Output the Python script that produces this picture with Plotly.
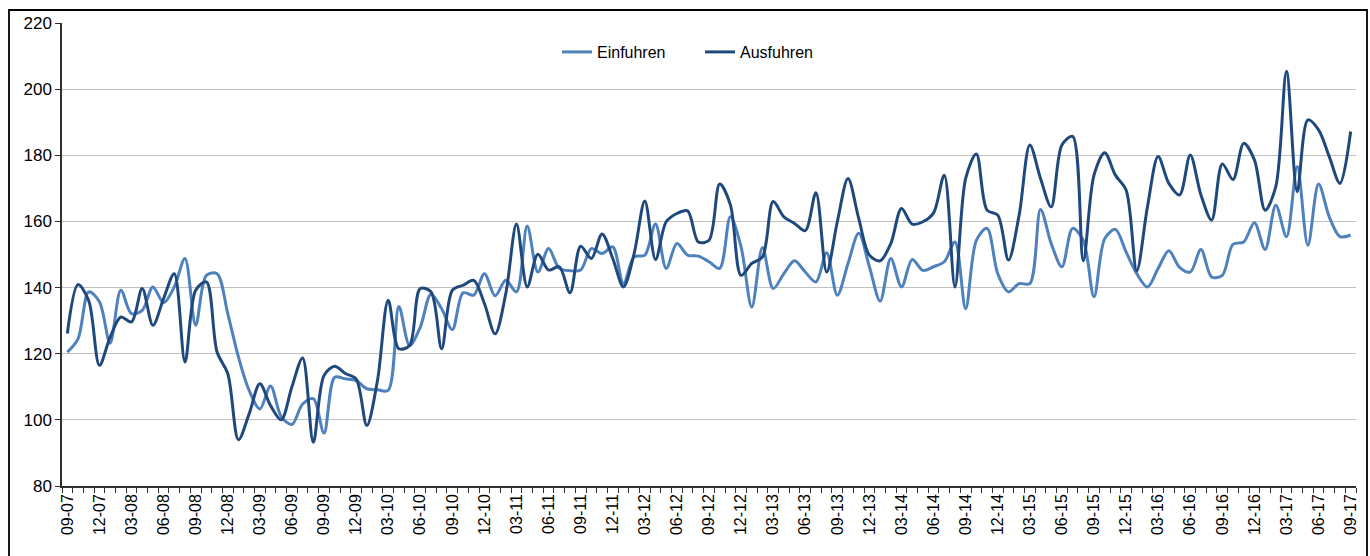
import pandas as pd
import plotly.graph_objects as go

# Monthly categories 09-07 .. 09-17
months = [d.strftime("%m-%y") for d in pd.date_range("2007-09-01", "2017-09-01", freq="MS")]

einfuhren = [
    120.5, 124.5, 138.7, 135.7, 123.2, 139.2, 132.1, 133.1, 140.2, 135.4,
    140.2, 148.8, 128.6, 143.7, 144.2, 132.1, 119.0, 108.9, 103.3, 110.2,
    101.0, 98.6, 104.8, 106.4, 96.0, 112.9, 112.4, 111.9, 109.4, 109.1,
    108.9, 134.3, 122.5, 128.0, 138.0, 133.6, 127.3, 138.4, 137.7, 144.2,
    137.5, 142.2, 138.7, 158.6, 144.7, 151.8, 145.8, 145.1, 145.3, 151.8,
    150.3, 152.3, 141.2, 149.3, 149.8, 159.2, 145.8, 153.3, 149.8, 149.5,
    147.8, 145.8, 161.4, 152.3, 134.1, 152.1, 139.7, 144.2, 148.1, 144.7,
    141.7, 150.5, 137.7, 147.3, 156.4, 146.3, 135.9, 148.8, 140.2, 148.5,
    145.2, 146.3, 147.8, 153.8, 133.6, 154.3, 157.9, 144.2, 138.7, 141.2,
    141.2, 163.6, 153.3, 146.3, 157.9, 154.3, 137.2, 154.8, 157.6, 150.8,
    144.2, 140.2, 145.8, 151.1, 146.1, 144.7, 151.5, 143.2, 143.7, 153.1,
    153.8, 159.6, 151.5, 164.9, 155.4, 176.6, 152.8, 171.3, 161.4, 155.4,
    155.9,
]

ausfuhren = [
    126.1, 140.9, 136.0, 116.5, 125.0, 131.1, 129.6, 139.7, 128.6, 136.7,
    144.2, 117.5, 139.2, 141.7, 120.5, 114.0, 94.0, 101.8, 110.9, 104.3,
    100.0, 110.0, 118.7, 93.2, 113.4, 116.2, 114.0, 112.4, 98.3, 111.9,
    136.2, 121.5, 122.5, 139.7, 138.7, 121.5, 139.2, 140.7, 142.2, 135.2,
    126.0, 138.2, 159.2, 140.2, 150.1, 145.3, 146.3, 138.4, 152.5, 148.8,
    156.2, 148.8, 140.2, 150.3, 166.2, 148.5, 159.9, 162.4, 163.2, 153.8,
    154.3, 171.3, 165.0, 143.7, 147.3, 149.3, 166.0, 161.4, 159.4, 157.2,
    168.7, 144.7, 159.9, 173.0, 160.9, 149.8, 148.1, 153.3, 163.9, 159.2,
    159.9, 162.6, 174.0, 140.2, 173.0, 180.4, 163.4, 161.9, 148.3, 161.9,
    183.1, 173.0, 164.4, 183.1, 185.7, 148.1, 174.0, 180.8, 174.0, 169.5,
    145.1, 164.4, 179.6, 171.5, 168.0, 180.1, 168.0, 160.4, 177.4, 172.7,
    183.6, 178.6, 163.4, 170.5, 205.4, 169.0, 190.7, 187.7, 179.6, 171.5,
    187.2,
]

y_ticks = [80, 100, 120, 140, 160, 180, 200, 220]

x_idx = list(range(len(months)))
tick_pos = x_idx[::3]
tick_txt = months[::3]

FONT = "Arial, Liberation Sans, sans-serif"
W, H = 1370, 556
L, R, T, B = 62, 14, 23, 70
PW, PH = W - L - R, H - T - B

fig = go.Figure()
fig.add_trace(go.Scatter(x=x_idx, y=einfuhren, name="Einfuhren", mode="lines",
                         line=dict(color="#4F81BD", width=3, shape="spline", smoothing=0.9)))
fig.add_trace(go.Scatter(x=x_idx, y=ausfuhren, name="Ausfuhren", mode="lines",
                         line=dict(color="#1F497D", width=3, shape="spline", smoothing=0.9)))

fig.update_layout(
    width=W, height=H,
    margin=dict(l=L, r=R, t=T, b=B, autoexpand=False),
    paper_bgcolor="white", plot_bgcolor="white",
    font=dict(family=FONT, color="black"),
    showlegend=True,
    legend=dict(orientation="h", x=(557 - L) / PW, xanchor="left",
                y=(H - B - 52) / PH, yanchor="middle",
                font=dict(size=16, family=FONT), bgcolor="rgba(0,0,0,0)",
                itemwidth=30, entrywidth=98, entrywidthmode="pixels"),
    xaxis=dict(
        range=[-0.5, len(months) - 0.5],
        tickmode="array", tickvals=tick_pos, ticktext=tick_txt,
        tickangle=-90, tickfont=dict(size=16, family=FONT),
        ticks="", showgrid=False, zeroline=False, automargin=False,
        showline=True, linecolor="#303030", linewidth=1.5,
        minor=dict(ticks="outside", tick0=-0.5, dtick=1, ticklen=5,
                   tickcolor="#303030", showgrid=False),
    ),
    yaxis=dict(
        range=[80, 220], tickmode="array", tickvals=y_ticks,
        tickfont=dict(size=17, family=FONT), automargin=False,
        ticks="outside", ticklen=5, tickcolor="#303030",
        showgrid=True, gridcolor="#c0c0c0", gridwidth=1.3,
        zeroline=False, showline=True, linecolor="#303030", linewidth=1.5,
    ),
)

# outer chart frame
fig.add_shape(type="rect", xref="paper", yref="paper",
              x0=(9 - L) / PW, x1=(1367 - L) / PW,
              y0=(H - B - 600) / PH, y1=(H - B - 10) / PH,
              line=dict(color="black", width=1.8), fillcolor="rgba(0,0,0,0)")

fig.write_html("out.html", config={"displayModeBar": False},
               post_script="document.body.style.margin='0';document.body.style.overflow='hidden';")
